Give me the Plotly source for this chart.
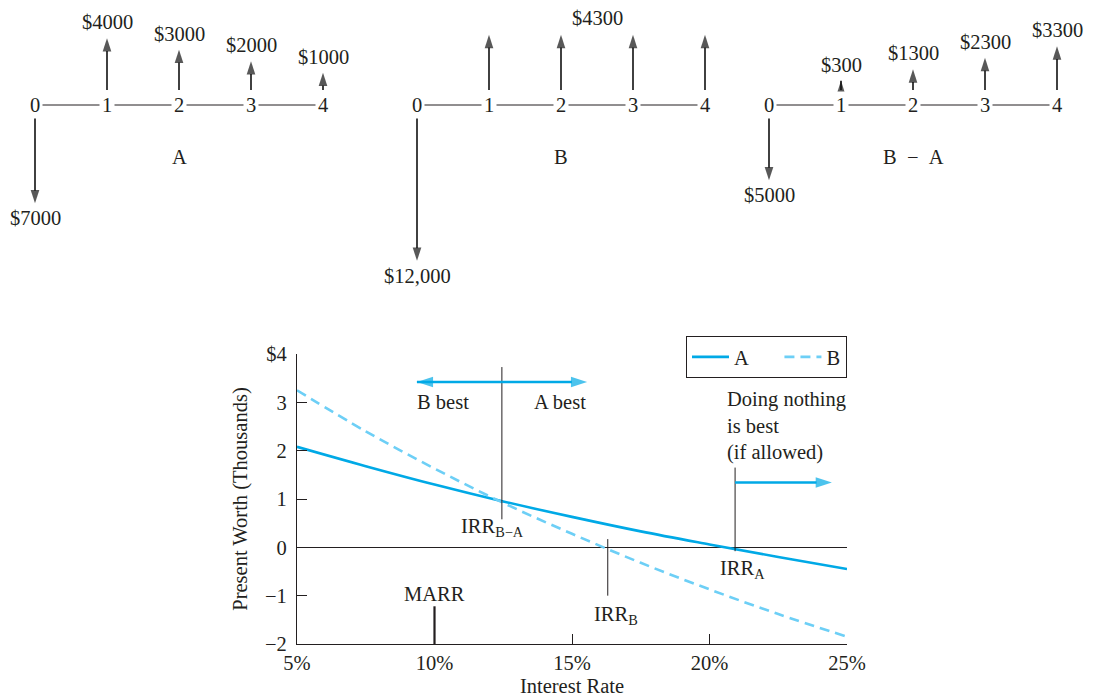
import plotly.graph_objects as go

# ---------------- data ----------------
periods = [0, 1, 2, 3, 4]
flows_A = [-7000, 4000, 3000, 2000, 1000]
flows_B = [-12000, 4300, 4300, 4300, 4300]
flows_BA = [-5000, 300, 1300, 2300, 3300]
diagram_names = ["A", "B", "B\u2002\u2212\u2002A"]

rates = [5, 7.5, 10, 12.5, 15, 17.5, 20, 22.5, 25]
pw_A = [2.08, 1.68, 1.30, 0.95, 0.63, 0.33, 0.06, -0.20, -0.45]
pw_B = [3.25, 2.40, 1.63, 0.92, 0.28, -0.32, -0.87, -1.38, -1.85]
series_names = ["A", "B"]

x_ticks = [5, 10, 15, 20, 25]
x_ticktext = ["5%", "10%", "15%", "20%", "25%"]
y_ticks = [-2, -1, 0, 1, 2, 3, 4]
y_ticktext = ["\u22122", "\u22121", "0", "1", "2", "3", "$4"]

marr = 10.0
irr_BA = 12.45
irr_B = 16.3
irr_A = 20.93

# ---------------- style ----------------
FONT = "Liberation Serif"
FS = 20.5
INK = "#231f20"
C_A = "#00a9e6"
C_B = "#6dcff6"
W, H = 1098, 700
OFF = 8  # page margin of the html body
NB = "\u00a0"


def px_x(p):
    return (p - OFF) / W


def px_y(p):
    return 1 - (p - OFF) / H


def money(v):
    v = abs(v)
    return "$" + (f"{v:,}" if v >= 10000 else str(v))


fig = go.Figure()

# ---------------- main present worth chart ----------------
fig.add_trace(go.Scatter(x=rates, y=pw_A, mode="lines", name=series_names[0] + NB * 5,
                         line=dict(color=C_A, width=2.6, shape="spline")))
fig.add_trace(go.Scatter(x=rates, y=pw_B, mode="lines", name=series_names[1],
                         line=dict(color=C_B, width=2.6, shape="spline", dash="10px,6px")))

# reference vertical lines
vlines = [
    (irr_BA, 0.58, 3.73, 1.0),
    (irr_B, -1.0, 0.17, 1.0),
    (irr_A, -0.08, 1.65, 1.0),
    (marr, -2.0, -1.22, 2.2),
]
for xv, y0, y1, w in vlines:
    fig.add_trace(go.Scatter(x=[xv, xv], y=[y0, y1], mode="lines", showlegend=False,
                             hoverinfo="skip", line=dict(color=INK, width=w)))


def arrow_trace(xs, ys, color, width, head, xa="x", ya="y"):
    fig.add_trace(go.Scatter(
        x=xs, y=ys, mode="lines+markers", xaxis=xa, yaxis=ya, showlegend=False,
        hoverinfo="skip", line=dict(color=color, width=width),
        marker=dict(symbol="arrow", size=[0, head], angleref="previous",
                    color=color, line=dict(width=0))))


arrow_trace([irr_BA, 9.36], [3.42, 3.42], C_A, 2.4, 17)
arrow_trace([irr_BA, 15.55], [3.42, 3.42], C_A, 2.4, 17)
arrow_trace([irr_A, 24.45], [1.34, 1.34], C_A, 2.4, 17)

annots = []


def txt(x, y, s, xref="x", yref="y", **kw):
    d = dict(x=x, y=y, xref=xref, yref=yref, text=s, showarrow=False,
             font=dict(family=FONT, size=FS, color=INK))
    d.update(kw)
    annots.append(d)


txt(10.3, 3.0, "B best")
txt(14.56, 3.0, "A best")
txt(20.56, 2.52, "Doing nothing<br>is best<br>(if allowed)", xanchor="left", align="left")
txt(12.1, 0.42, "IRR<sub>B\u2212A</sub>")
txt(16.6, -1.4, "IRR<sub>B</sub>")
txt(21.2, -0.46, "IRR<sub>A</sub>")
txt(10.0, -0.97, "MARR")

# ---------------- cash flow diagrams ----------------
PX_PER_K = 11.5              # pixels per $1000
line_px = 105                # timeline y (page px)
top_px0, top_px1 = 8, 300    # top region (page px)
y_hi = (line_px - top_px0) / PX_PER_K
y_lo = -(top_px1 - line_px) / PX_PER_K
step = 72.0
zero_px = [35, 417, 769]
gap_up, gap_dn, extra = 1.3, 1.05, 0.5

for k, (flows, name) in enumerate(zip([flows_A, flows_B, flows_BA], diagram_names)):
    ax_id = k + 2
    xa, ya = f"x{ax_id}", f"y{ax_id}"
    pad = 25
    d0 = px_x(zero_px[k] - pad)
    d1 = px_x(zero_px[k] + 4 * step + pad)
    fig.update_layout(**{
        f"xaxis{ax_id}": dict(domain=[d0, d1], range=[-pad / step, 4 + pad / step],
                              visible=False, anchor=ya, fixedrange=True, automargin=False),
        f"yaxis{ax_id}": dict(domain=[px_y(top_px1), px_y(top_px0)], range=[y_lo, y_hi],
                              visible=False, anchor=xa, fixedrange=True, automargin=False),
    })
    fig.add_trace(go.Scatter(x=[periods[0], periods[-1]], y=[0, 0], mode="lines",
                             xaxis=xa, yaxis=ya, showlegend=False, hoverinfo="skip",
                             line=dict(color=INK, width=1)))
    for t in periods:
        txt(t, 0, str(t), xref=xa, yref=ya, bgcolor="white", borderpad=2)
    for t, v in zip(periods, flows):
        if v > 0:
            base = gap_up
            tip = gap_up + v / 1000 + extra
        else:
            base = -gap_dn
            tip = -(gap_dn + abs(v) / 1000 + extra)
        arrow_trace([t, t], [base, tip], "#111111", 1.6, 14, xa=xa, ya=ya)
        show_label = not (name == "B" and v > 0)
        if show_label:
            txt(t, tip, money(v), xref=xa, yref=ya, yshift=16 if v > 0 else -15)
    if name == "B":
        v = flows_B[2]
        tip = gap_up + v / 1000 + extra
        txt(2.5, tip, money(v), xref=xa, yref=ya, yshift=17)
    txt(2, -(157 - line_px) / PX_PER_K, name, xref=xa, yref=ya)

fig.update_layout(
    template="none",
    width=W, height=H,
    margin=dict(l=0, r=0, t=0, b=0),
    paper_bgcolor="white", plot_bgcolor="white",
    font=dict(family=FONT, size=FS, color=INK),
    annotations=annots,
    showlegend=True,
    legend=dict(x=px_x(847), xanchor="right", y=px_y(336), yanchor="top",
                orientation="h", bordercolor=INK, borderwidth=1,
                bgcolor="white", font=dict(family=FONT, size=FS, color=INK),
                itemwidth=37, tracegroupgap=0),
    xaxis=dict(domain=[px_x(297), px_x(847)], range=[5, 25], tickvals=x_ticks,
               ticktext=x_ticktext,
               ticks="inside", ticklen=10, tickcolor=INK, tickwidth=1.2, showline=True,
               linecolor=INK, linewidth=1.2, showgrid=False, zeroline=False, anchor="y",
               automargin=False, ticklabelstandoff=0,
               title=dict(text="Interest Rate", standoff=5, font=dict(size=FS)),
               tickfont=dict(size=FS)),
    yaxis=dict(domain=[px_y(644), px_y(354)], range=[-2, 4], tickvals=y_ticks,
               ticktext=y_ticktext, ticks="inside", ticklen=10, tickcolor=INK, tickwidth=1.2,
               showline=True, linecolor=INK, linewidth=1.2, showgrid=False,
               zeroline=True, zerolinecolor=INK, zerolinewidth=1.2, anchor="x",
               automargin=False, ticklabelstandoff=5,
               title=dict(text="Present Worth (Thousands)", standoff=11, font=dict(size=FS)),
               tickfont=dict(size=FS)),
)

fig.write_html("out.html")
